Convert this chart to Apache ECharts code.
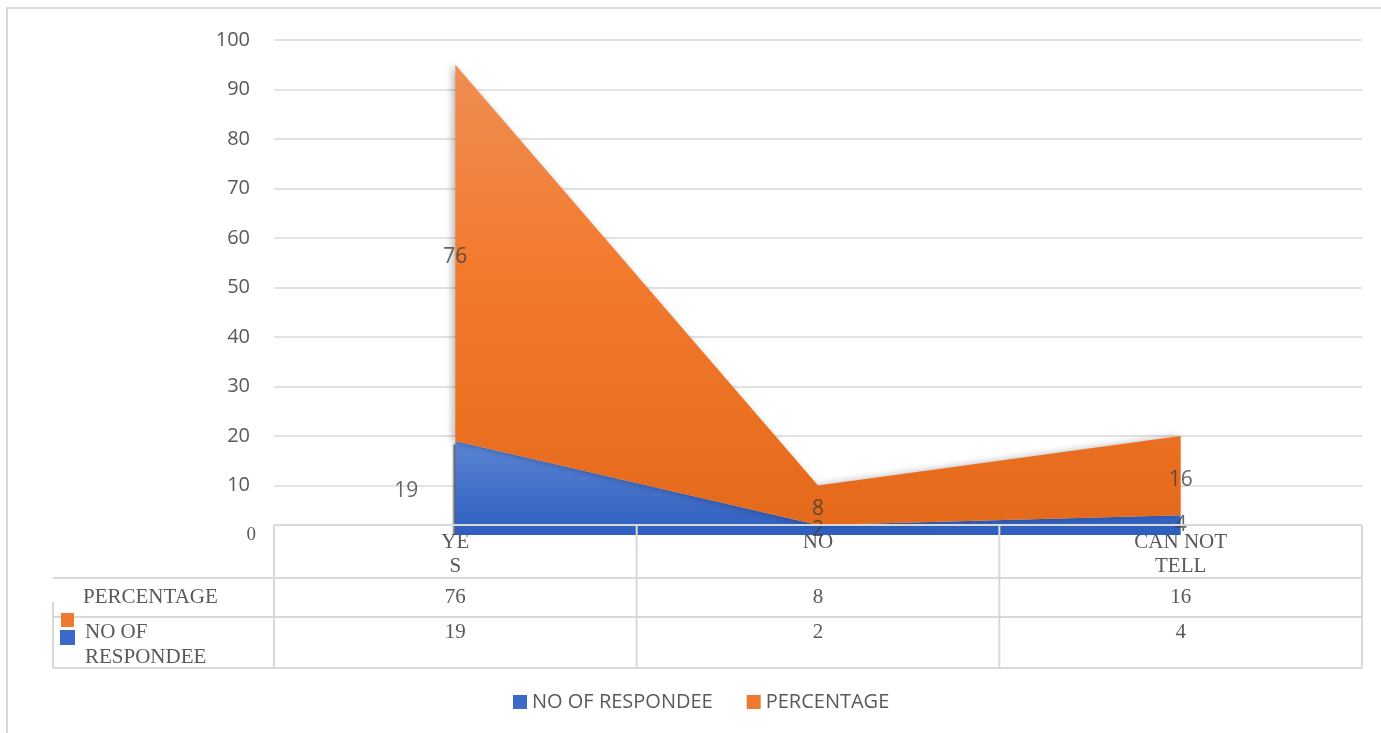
<!DOCTYPE html>
<html>
<head>
<meta charset="utf-8">
<script src="https://cdn.jsdelivr.net/npm/echarts@6/dist/echarts.min.js"></script>
<style>
  html, body { margin: 0; padding: 0; background: #fff; }
  #chart { width: 1381px; height: 733px; }
</style>
</head>
<body>
<div id="chart"></div>
<script>
// Survey responses: count of respondents and share in percent
const categories = ['YES', 'NO', 'CAN NOT TELL'];
const categoryLabels = ['YE\nS', 'NO', 'CAN NOT\nTELL'];
const respondents = [19, 2, 4];
const percentage = [76, 8, 16];
const seriesNames = ['NO OF RESPONDEE', 'PERCENTAGE'];
const tableRowLabels = ['PERCENTAGE', 'NO OF\nRESPONDEE'];

const TEXT = '#595959';
const LINE = '#d9d9d9';
const BLUE = '#3A69C9';
const ORANGE = '#EE7A2F';
const SANS = '"Open Sans", "Noto Sans", sans-serif';
const SERIF = '"Liberation Serif", "DejaVu Serif", serif';

const chart = echarts.init(document.getElementById('chart'), null, { renderer: 'canvas' });

// value labels sit in the middle of each stacked band
const labelData = [];
respondents.forEach((v, i) => {
  labelData.push({
    value: [i, v / 2], shown: v,
    label: i === 0 ? { offset: [-49, 3] } : undefined
  });
});
percentage.forEach((v, i) => {
  labelData.push({
    value: [i, respondents[i] + v / 2], shown: v,
    label: { offset: [0, 4] }
  });
});

chart.setOption({
  animation: false,
  backgroundColor: '#fff',
  grid: { left: 274, right: 19, top: 40, bottom: 198, containLabel: false },
  legend: {
    data: seriesNames,
    left: 508, top: 686,
    icon: 'rect', itemWidth: 14, itemHeight: 14, itemGap: 34,
    textStyle: { color: TEXT, fontFamily: SANS, fontSize: 20, lineHeight: 22 }
  },
  xAxis: {
    type: 'category',
    data: categories,
    boundaryGap: true,
    axisLine: { show: false },
    axisTick: { show: false },
    axisLabel: {
      margin: -5,
      color: TEXT, fontFamily: SERIF, fontSize: 21, lineHeight: 24,
      formatter: (v, i) => categoryLabels[i]
    }
  },
  yAxis: {
    type: 'value',
    min: 0, max: 100, interval: 10,
    axisLine: { show: false },
    axisTick: { show: false },
    splitLine: { showMinLine: false, lineStyle: { color: LINE, width: 1.6 } },
    axisLabel: {
      margin: 24,
      color: TEXT, fontFamily: SANS, fontSize: 20,
      formatter: v => (v === 0 ? '{z|0}' : String(v)),
      rich: { z: { fontFamily: SERIF, fontSize: 19, color: TEXT, padding: [0, -6, 0, 0] } }
    }
  },
  series: [
    {
      name: seriesNames[0],
      type: 'line', stack: 'total',
      data: respondents,
      symbol: 'none',
      lineStyle: { width: 0 },
      itemStyle: { color: BLUE },
      areaStyle: {
        opacity: 1,
        color: new echarts.graphic.LinearGradient(0, 0, 0, 1, [
          { offset: 0, color: '#5C85D5' },
          { offset: 1, color: '#2D5DBE' }
        ]),
        shadowColor: 'rgba(70,70,70,0.9)',
        shadowBlur: 2, shadowOffsetX: -2, shadowOffsetY: 3
      },
      z: 2
    },
    {
      name: seriesNames[1],
      type: 'line', stack: 'total',
      data: percentage,
      symbol: 'none',
      lineStyle: { width: 0 },
      itemStyle: { color: ORANGE },
      areaStyle: {
        opacity: 1,
        color: new echarts.graphic.LinearGradient(0, 0, 0, 1, [
          { offset: 0, color: '#EF8D52' },
          { offset: 0.45, color: '#F27A2D' },
          { offset: 1, color: '#E5691A' }
        ]),
        shadowColor: 'rgba(0,0,0,0.28)',
        shadowBlur: 7, shadowOffsetX: -3
      },
      z: 3
    },
    {
      name: 'labels',
      type: 'scatter',
      data: labelData,
      symbolSize: 0,
      silent: true,
      z: 5,
      label: {
        show: true, position: 'inside',
        color: '#404040', fontFamily: SANS, fontSize: 21,
        formatter: p => String(p.data.shown)
      }
    }
  ]
});

// data table under the plot, aligned with the category bands
function drawTable() {
  const c0 = chart.convertToPixel({ xAxisIndex: 0 }, 0);
  const c1 = chart.convertToPixel({ xAxisIndex: 0 }, 1);
  const band = c1 - c0;
  const x0 = c0 - band / 2;
  const xEnd = x0 + band * categories.length;
  const rowTop = 525, row1 = 578, row2 = 617, rowBottom = 668, leftEdge = 53;

  const els = [];
  const line = (x1, y1, x2, y2) => els.push({
    type: 'line', z: 10, silent: true,
    shape: { x1, y1, x2, y2 },
    style: { stroke: LINE, lineWidth: 2 }
  });
  // frame around the whole figure
  els.push({
    type: 'rect', z: 0, silent: true,
    shape: { x: 7, y: 8, width: 1390, height: 740 },
    style: { fill: null, stroke: LINE, lineWidth: 2 }
  });
  line(x0, rowTop, xEnd, rowTop);
  line(leftEdge, row1, xEnd, row1);
  line(leftEdge, row2, xEnd, row2);
  line(leftEdge, rowBottom, xEnd, rowBottom);
  for (let i = 0; i <= categories.length; i++) {
    line(x0 + band * i, rowTop, x0 + band * i, rowBottom);
  }
  line(leftEdge, 602, leftEdge, rowBottom);

  const txt = (text, x, y, align, vAlign) => els.push({
    type: 'text', z: 11, silent: true,
    x, y,
    style: {
      text, fill: TEXT, font: '21px ' + SERIF, lineHeight: 25,
      align, verticalAlign: vAlign
    }
  });
  txt(tableRowLabels[0], 83, 597, 'left', 'middle');
  txt(tableRowLabels[1], 85, 620, 'left', 'top');
  categories.forEach((_, i) => {
    const cx = c0 + band * i;
    txt(String(percentage[i]), cx, 597, 'center', 'middle');
    txt(String(respondents[i]), cx, 620, 'center', 'top');
  });
  // legend keys beside the row labels
  els.push({ type: 'rect', z: 12, silent: true, shape: { x: 61, y: 613, width: 13, height: 14 }, style: { fill: ORANGE } });
  els.push({ type: 'rect', z: 12, silent: true, shape: { x: 60, y: 630, width: 15, height: 15 }, style: { fill: BLUE } });

  chart.setOption({ graphic: { elements: els } });
}
drawTable();
</script>
</body>
</html>
